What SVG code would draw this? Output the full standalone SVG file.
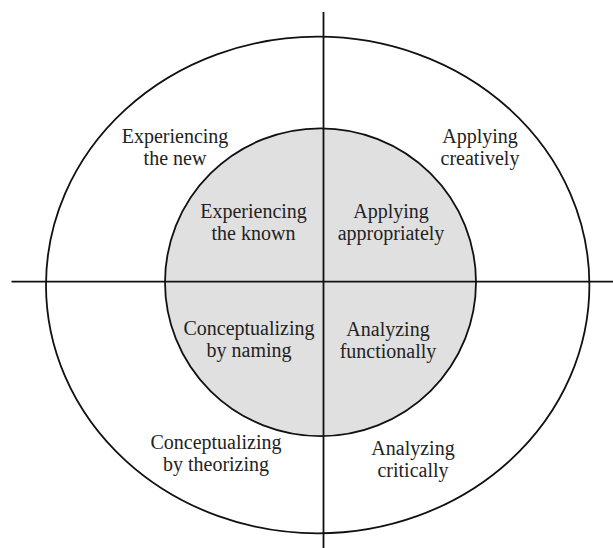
<svg xmlns="http://www.w3.org/2000/svg" width="613" height="548" viewBox="0 0 613 548">
<style>
.ln{stroke:#111;stroke-width:1.8;fill:none}
.t{font-family:"Liberation Serif","Times New Roman",serif;font-size:20px;fill:#222;text-anchor:middle}
</style>
<rect width="613" height="548" fill="#fff"/>
<g id="outer"><ellipse cx="317.7" cy="285" rx="271.7" ry="248.3" class="ln"/></g>
<g id="inner"><ellipse cx="320.5" cy="282.2" rx="155.5" ry="153.9" fill="#e0e0e0" stroke="#111" stroke-width="1.8"/></g>
<g id="axes">
<line x1="323.5" y1="12" x2="323.5" y2="548" class="ln"/>
<line x1="11.5" y1="281.7" x2="613" y2="281.7" class="ln"/>
</g>
<g id="experiencing-new"><text class="t" x="175" y="143">Experiencing</text><text class="t" x="175" y="165">the new</text></g>
<g id="applying-creatively"><text class="t" x="480" y="143">Applying</text><text class="t" x="480" y="165">creatively</text></g>
<g id="experiencing-known"><text class="t" x="253.5" y="218">Experiencing</text><text class="t" x="253.5" y="240">the known</text></g>
<g id="applying-appropriately"><text class="t" x="391" y="218">Applying</text><text class="t" x="391" y="240">appropriately</text></g>
<g id="conceptualizing-naming"><text class="t" x="249" y="335">Conceptualizing</text><text class="t" x="249" y="357">by naming</text></g>
<g id="analyzing-functionally"><text class="t" x="388" y="336">Analyzing</text><text class="t" x="388" y="358">functionally</text></g>
<g id="conceptualizing-theorizing"><text class="t" x="216" y="449">Conceptualizing</text><text class="t" x="216" y="471">by theorizing</text></g>
<g id="analyzing-critically"><text class="t" x="413" y="455">Analyzing</text><text class="t" x="413" y="477">critically</text></g>
</svg>
